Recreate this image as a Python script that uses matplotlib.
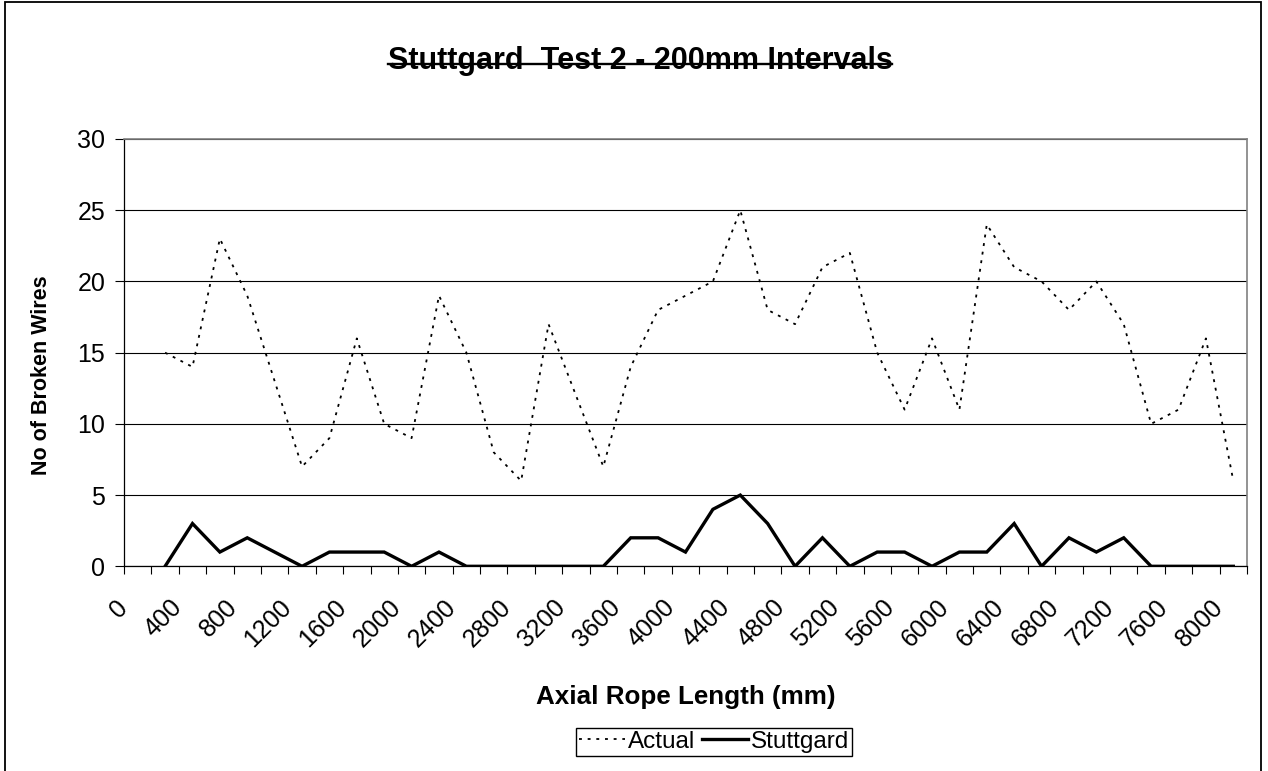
import matplotlib
matplotlib.use('Agg')
import matplotlib.pyplot as plt
import matplotlib.transforms as mtransforms
from matplotlib.patches import Rectangle
from matplotlib.lines import Line2D
import numpy as np

plt.rcParams['font.family'] = ['Liberation Sans', 'DejaVu Sans']

# category axis: 0 .. 8000 mm in 200 mm steps, data starts at 200 mm
lengths = list(range(0, 8001, 200))
positions = lengths[1:]
actual = [15, 14, 23, 19, 13, 7, 9, 16, 10, 9, 19, 15, 8, 6, 17, 12, 7, 14, 18, 19,
          20, 25, 18, 17, 21, 22, 15, 11, 16, 11, 24, 21, 20, 18, 20, 17, 10, 11, 16, 6]
stuttgard = [0, 3, 1, 2, 1, 0, 1, 1, 1, 0, 1, 0, 0, 0, 0, 0, 0, 2, 2, 1,
             4, 5, 3, 0, 2, 0, 1, 1, 0, 1, 1, 3, 0, 2, 1, 2, 0, 0, 0, 0]
tick_labels = [str(v) if v % 400 == 0 else '' for v in lengths]
y_ticks = [0, 5, 10, 15, 20, 25, 30]

W, H = 1268, 771
fig = plt.figure(figsize=(W / 100, H / 100), dpi=100)
ax = fig.add_axes([124 / W, 1 - 566.3 / H, 1123 / W, (566.3 - 139) / H])

xs = [lengths.index(p) + 0.5 for p in positions]
ax.plot(xs, actual, color='black', lw=1.3, linestyle=(0, (1.6, 3.2)), label='Actual')
ax.plot(xs, stuttgard, color='black', lw=2.4, label='Stuttgard', solid_joinstyle='miter')

ax.set_xlim(0, len(lengths))
ax.set_ylim(0, 30)
ax.set_yticks(y_ticks)
ax.tick_params(axis='y', direction='out', length=6.5, width=0.8, pad=7, labelsize=18)
ax.yaxis.grid(True, color='black', lw=0.8)
ax.set_axisbelow(True)

# ticks at category boundaries, labels at category centres
ax.set_xticks(np.arange(len(lengths) + 1))
ax.set_xticklabels([])
ax.set_xticks(np.arange(len(lengths)) + 0.5, minor=True)
ax.set_xticklabels(tick_labels, minor=True)
ax.tick_params(axis='x', which='major', direction='out', length=6, width=0.8)
ax.tick_params(axis='x', which='minor', length=0, pad=27, labelsize=18)
offset = mtransforms.ScaledTranslation(-14 / 100, 0, fig.dpi_scale_trans)
for lab in ax.xaxis.get_minorticklabels():
    lab.set_rotation(45)
    lab.set_ha('right')
    lab.set_va('center')
    lab.set_rotation_mode('anchor')
    lab.set_transform(lab.get_transform() + offset)

for s in ['left', 'bottom']:
    ax.spines[s].set_color('black')
    ax.spines[s].set_linewidth(0.9)
for s in ['top', 'right']:
    ax.spines[s].set_color('#808080')
    ax.spines[s].set_linewidth(1.2)

fig.text(41.5 / W, 1 - 375 / H, 'No of Broken Wires', rotation=90, ha='center', va='center',
         fontsize=15.5, fontweight='bold')
fig.text(686 / W, 1 - 697 / H, 'Axial Rope Length (mm)', ha='center', va='center',
         fontsize=18.7, fontweight='bold')

title_fs = 22
title = fig.text(640 / W, 1 - 69 / H, 'Stuttgard  Test 2 - 200mm Intervals', ha='center',
                 va='baseline', fontsize=title_fs, fontweight='bold')

leg = ax.legend(loc='upper center', bbox_to_anchor=(714 / W, 1 - 728 / H),
                bbox_transform=fig.transFigure, ncol=2, fontsize=17.5, frameon=True,
                fancybox=False, edgecolor='black', framealpha=1, borderaxespad=0,
                handlelength=1.9, handletextpad=0.12, columnspacing=0.3,
                borderpad=0.12)
leg.get_frame().set_linewidth(1.0)

# struck-through title line
fig.canvas.draw()
bb = title.get_window_extent(fig.canvas.get_renderer())
fs_px = title_fs * 100 / 72
base_y = (1 - 69 / H) * H
y_line = base_y + 0.22 * 0.716 * fs_px
fig.add_artist(Line2D([bb.x0 / W, bb.x1 / W], [y_line / H, y_line / H],
                      transform=fig.transFigure, color='black', lw=1.7))

# outer chart border
fig.add_artist(Rectangle((5 / W, -0.02), (1261 - 5) / W, 1.02 - 2 / H,
                         transform=fig.transFigure, fill=False, edgecolor='black', lw=1.3))

fig.savefig('out.png', dpi=100)
